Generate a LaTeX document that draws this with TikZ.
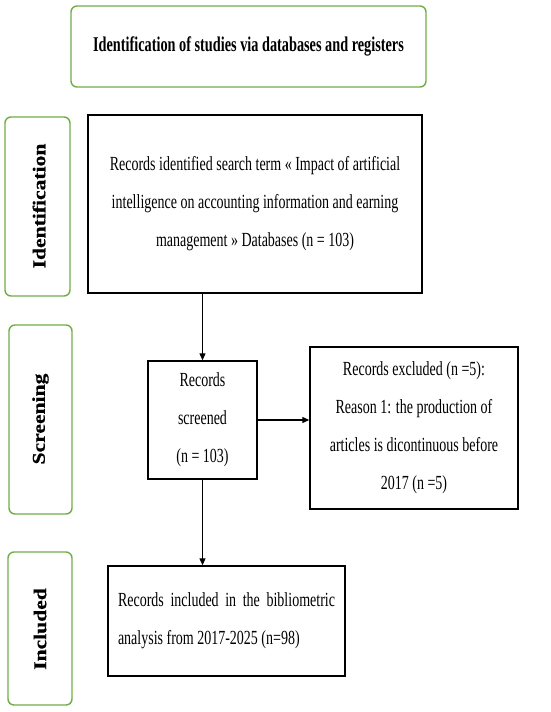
\documentclass[tikz,border=0pt]{standalone}
\usepackage{fontspec}
\setmainfont{Liberation Serif}[FakeStretch=0.7]
\newfontfamily\titlefont{Liberation Serif}[FakeStretch=0.68]
\newfontfamily\sidefont{Liberation Serif}[FakeStretch=1.2,FakeBold=0.6]
\usetikzlibrary{arrows.meta}
\definecolor{pgreen}{RGB}{112,173,71}
\tikzset{
  phase/.style={draw=pgreen, line width=1.4pt, rounded corners=6pt, inner sep=0pt},
  phasetext/.style={rotate=90, font=\sidefont\bfseries\fontsize{18}{20}\selectfont},
  recbox/.style={draw=black, line width=1.4pt, inner sep=0pt, align=center,
    font=\fontsize{20}{38}\selectfont},
  flow/.style={line width=1.2pt, -{Triangle[length=7pt,width=6pt]}}
}
\begin{document}
\begin{tikzpicture}[x=1pt,y=-1pt]
\useasboundingbox (0,0) rectangle (550,712);
\node[phase, minimum width=355pt, minimum height=81pt,
  font=\titlefont\bfseries\fontsize{21}{24}\selectfont] (title) at (248.5,46.5)
  {Identification of studies via databases and registers};
\node[phase, minimum width=65pt, minimum height=179pt] (pid) at (37.5,206.5) {};
\node[phasetext] (pidt) at (39,206) {Identification};
\node[phase, minimum width=63pt, minimum height=189pt] (psc) at (40.5,419.5) {};
\node[phasetext] (psct) at (40.5,419) {Screening};
\node[phase, minimum width=64pt, minimum height=153pt] (pin) at (40,628.5) {};
\node[phasetext] (pint) at (40,629) {Included};
\node[recbox, minimum width=334pt, minimum height=178pt] (ident) at (255,204)
  {Records identified search term « Impact of artificial\\ intelligence on accounting information and earning\\ management » Databases (n = 103)};
\node[recbox, minimum width=109pt, minimum height=118pt] (screen) at (202.5,420)
  {Records\\ screened\\ (n = 103)};
\node[recbox, minimum width=208pt, minimum height=162pt] (excl) at (414,428)
  {Records excluded (n =5):\\ Reason 1: the production of\\ articles is dicontinuous before\\ 2017 (n =5)};
\node[recbox, minimum width=237pt, minimum height=110pt, text width=217pt, align=justify] (incl) at (226.5,621)
  {Records included in the bibliometric analysis from 2017-2025 (n=98)};
\draw[flow] (screen.north |- ident.south) -- (screen.north);
\draw[flow] (screen.east) -- (screen.east -| excl.west);
\draw[flow] (screen.south) -- (screen.south |- incl.north);
\end{tikzpicture}
\end{document}
